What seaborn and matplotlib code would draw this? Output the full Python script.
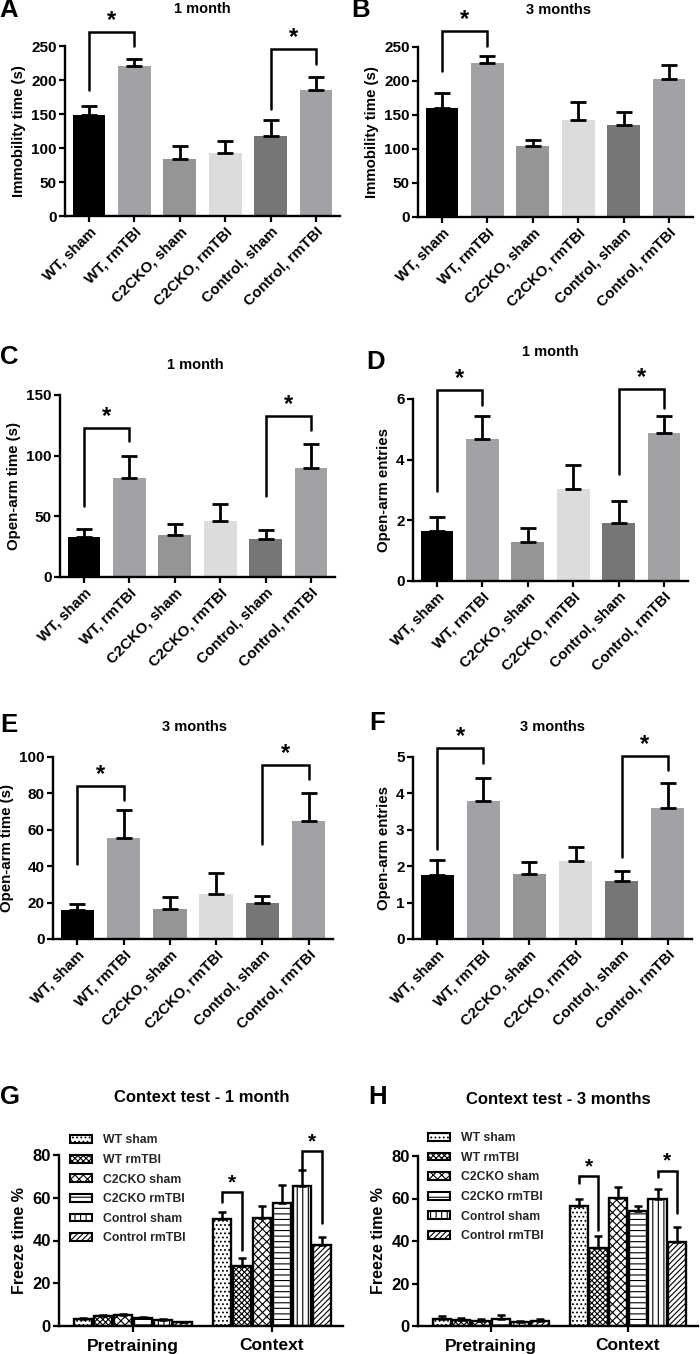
import numpy as np
import pandas as pd
import matplotlib
matplotlib.use("Agg")
import matplotlib.pyplot as plt
import matplotlib.patches as mpatches
import seaborn as sns

sns.set_theme(style="ticks")
plt.rcParams["font.family"] = ["Liberation Sans", "DejaVu Sans"]
plt.rcParams["font.weight"] = "bold"
plt.rcParams["axes.labelweight"] = "bold"
plt.rcParams["hatch.linewidth"] = 0.8

# ---------------- data ----------------
groups = ["WT, sham", "WT, rmTBI", "C2CKO, sham", "C2CKO, rmTBI", "Control, sham", "Control, rmTBI"]
bar_colors = ["#000000", "#a2a2a6", "#959595", "#dcdcdc", "#767676", "#a2a2a6"]

immob_1m = [148, 221, 84, 92, 118, 185]
immob_1m_sem = [14, 10, 19, 19, 23, 19]
immob_3m = [160, 227, 104, 143, 136, 203]
immob_3m_sem = [22, 10, 9, 26, 18, 20]
openarm_time_1m = [33, 82, 35, 46.5, 31.7, 89.7]
openarm_time_1m_sem = [6.4, 18, 8.3, 13.5, 6.8, 19.6]
openarm_entries_1m = [1.65, 4.67, 1.27, 3.02, 1.90, 4.87]
openarm_entries_1m_sem = [0.47, 0.78, 0.49, 0.82, 0.75, 0.57]
openarm_time_3m = [15.9, 55.3, 16.6, 25.0, 19.9, 65.1]
openarm_time_3m_sem = [3.4, 15.5, 6.4, 11.5, 4.0, 15.2]
openarm_entries_3m = [1.77, 3.78, 1.78, 2.14, 1.59, 3.59]
openarm_entries_3m_sem = [0.39, 0.64, 0.33, 0.39, 0.27, 0.70]

fear_groups = ["WT sham", "WT rmTBI", "C2CKO sham", "C2CKO rmTBI", "Control sham", "Control rmTBI"]
phases = ["Pretraining", "Context"]
fear_hatches = ["....", "xxxxxx", "xxxx", "---", "|||", "//////"]
freeze_pre_1m = [3.1, 4.7, 5.0, 3.9, 2.7, 1.7]
freeze_pre_1m_sem = [0.5, 0.6, 0.5, 0.4, 0.4, 0.3]
freeze_ctx_1m = [50.2, 28.1, 50.3, 57.5, 65.6, 37.8]
freeze_ctx_1m_sem = [3.2, 3.5, 6.0, 8.3, 7.5, 3.8]
freeze_pre_3m = [3.1, 3.0, 2.5, 3.3, 1.9, 2.5]
freeze_pre_3m_sem = [1.6, 0.6, 0.6, 1.9, 0.5, 1.0]
freeze_ctx_3m = [56.5, 36.9, 60.1, 54.1, 59.6, 39.5]
freeze_ctx_3m_sem = [3.3, 5.5, 5.2, 2.4, 5.0, 6.9]

# significance brackets: (left index, right index, left-leg bottom, top, right-leg bottom)
sig_A = [(0, 1, 185, 270, 250), (4, 5, 158, 245, 223)]
sig_B = [(0, 1, 214, 273, 252)]
sig_C = [(0, 1, 58.6, 123, 112), (4, 5, 67, 133, 121)]
sig_D = [(0, 1, 2.97, 6.29, 5.79), (4, 5, 3.53, 6.33, 5.69)]
sig_E = [(0, 1, 41, 84, 76.6), (4, 5, 52, 95.6, 87.8)]
sig_F = [(0, 1, 2.46, 5.25, 4.84), (4, 5, 2.26, 5.04, 4.64)]
sig_G = [(0, 1, 57.8, 62.5, 35.6), (4, 5, 72.3, 81.7, 48.1)]
sig_H = [(0, 1, 67.1, 70.6, 45.2), (4, 5, 70.0, 73.1, 53.0)]

W, H = 700, 1354
fig = plt.figure(figsize=(W / 100, H / 100), dpi=100)


def rect(left, top, right, bottom):
    return [left / W, 1 - bottom / H, (right - left) / W, (bottom - top) / H]


def style_axes(ax, ysize):
    sns.despine(ax=ax)
    for s in ["left", "bottom"]:
        ax.spines[s].set_linewidth(1.7)
        ax.spines[s].set_color("black")
    ax.tick_params(axis="both", direction="out", length=4, width=1.6, color="black",
                   labelcolor="black", pad=2)
    ax.tick_params(axis="y", labelsize=ysize)
    for lab in ax.get_yticklabels():
        lab.set_fontweight("bold")


def bracket(ax, x0, x1, yl, yt, yr, star_size=17):
    ax.plot([x0, x0, x1, x1], [yl, yt, yt, yr], color="black", lw=1.8,
            clip_on=False, solid_joinstyle="miter")
    ax.text((x0 + x1) / 2, yt, "*", ha="center", va="bottom", fontsize=star_size,
            fontweight="bold", color="black", clip_on=False)


def simple_panel(r, values, sems, ymax, yticks, ylabel, sigs):
    ax = fig.add_axes(r)
    df = pd.DataFrame({"group": groups, "value": values})
    sns.barplot(data=df, x="group", y="value", hue="group", palette=bar_colors,
                legend=False, errorbar=None, width=0.72, linewidth=0,
                saturation=1, ax=ax)
    x = np.arange(len(groups))
    ax.errorbar(x, values, yerr=[np.zeros(len(values)), sems], fmt="none",
                ecolor="black", elinewidth=2.0, capsize=5.5, capthick=2.0,
                clip_on=False)
    ax.set_xlim(-0.53, 5.53)
    ax.set_ylim(0, ymax)
    ax.set_yticks(yticks)
    ax.set_xticks(x)
    ax.set_xticklabels(groups, rotation=45, ha="right", rotation_mode="anchor",
                       fontweight="bold", fontsize=10.8)
    ax.set_xlabel("")
    ax.set_ylabel(ylabel, fontsize=10.8, fontweight="bold", color="black", labelpad=4)
    style_axes(ax, 11)
    for (i, j, yl, yt, yr) in sigs:
        bracket(ax, i, j, yl, yt, yr)
    return ax


def fear_panel(r, pre, pre_sem, ctx, ctx_sem, sigs, leg_anchor):
    ax = fig.add_axes(r)
    rows = []
    for g, p, c in zip(fear_groups, pre, ctx):
        rows.append({"phase": phases[0], "group": g, "value": p})
        rows.append({"phase": phases[1], "group": g, "value": c})
    df = pd.DataFrame(rows)
    sns.barplot(data=df, x="phase", y="value", hue="group", order=phases,
                hue_order=fear_groups, palette=["white"] * 6, errorbar=None,
                width=0.86, gap=0.08, saturation=1, edgecolor="black",
                linewidth=1.7, legend=False, ax=ax)
    bar_containers = list(ax.containers)
    centers = {}
    for j, cont in enumerate(bar_containers):
        for k, patch in enumerate(cont.patches):
            patch.set_hatch(fear_hatches[j])
            patch.set_edgecolor("black")
            centers[(k, j)] = patch.get_x() + patch.get_width() / 2
    for j in range(len(fear_groups)):
        xs = [centers[(0, j)], centers[(1, j)]]
        ax.errorbar(xs, [pre[j], ctx[j]], yerr=[[0, 0], [pre_sem[j], ctx_sem[j]]],
                    fmt="none", ecolor="black", elinewidth=1.8, capsize=3.2,
                    capthick=1.8, clip_on=False)
    ax.set_xlim(-0.53, 1.51)
    ax.set_ylim(0, 80)
    ax.set_yticks([0, 20, 40, 60, 80])
    ax.set_xticks([0, 1])
    ax.set_xticklabels(phases, fontsize=12.5, fontweight="bold")
    ax.set_xlabel("")
    ax.set_ylabel("Freeze time %", fontsize=11.5, fontweight="bold", color="black")
    style_axes(ax, 12)
    ax.tick_params(axis="x", pad=5)
    for (i, j, yl, yt, yr) in sigs:
        bracket(ax, centers[(1, i)], centers[(1, j)], yl, yt, yr, star_size=15)
    handles = [mpatches.Patch(facecolor="white", edgecolor="black", linewidth=1.5,
                              hatch=h, label=g) for g, h in zip(fear_groups, fear_hatches)]
    ax.legend(handles=handles, loc="upper left", bbox_to_anchor=leg_anchor,
              frameon=False, handlelength=1.8, handleheight=0.6,
              labelspacing=0.62, handletextpad=0.9, borderpad=0, borderaxespad=0,
              prop={"weight": "bold", "size": 8.8})
    return ax


def fig_text(x, y, s, size, weight="bold"):
    fig.text(x / W, 1 - y / H, s, ha="center", va="center", fontsize=size,
             fontweight=weight, color="black")


simple_panel(rect(65, 46, 340, 216), immob_1m, immob_1m_sem, 250,
             [0, 50, 100, 150, 200, 250], "Immobility time (s)", sig_A)
simple_panel(rect(418, 47, 693, 217), immob_3m, immob_3m_sem, 250,
             [0, 50, 100, 150, 200, 250], "Immobility time (s)", sig_B)
simple_panel(rect(60, 395, 335, 577), openarm_time_1m, openarm_time_1m_sem, 150,
             [0, 50, 100, 150], "Open-arm time (s)", sig_C)
simple_panel(rect(413, 399, 688, 581), openarm_entries_1m, openarm_entries_1m_sem, 6,
             [0, 2, 4, 6], "Open-arm entries", sig_D)
simple_panel(rect(53, 757, 333, 939), openarm_time_3m, openarm_time_3m_sem, 100,
             [0, 20, 40, 60, 80, 100], "Open-arm time (s)", sig_E)
simple_panel(rect(413, 757, 692, 939), openarm_entries_3m, openarm_entries_3m_sem, 5,
             [0, 1, 2, 3, 4, 5], "Open-arm entries", sig_F)
fear_panel(rect(59, 1155, 343, 1326), freeze_pre_1m, freeze_pre_1m_sem,
           freeze_ctx_1m, freeze_ctx_1m_sem, sig_G, (0.04, 1.12))
fear_panel(rect(418, 1156, 698, 1326), freeze_pre_3m, freeze_pre_3m_sem,
           freeze_ctx_3m, freeze_ctx_3m_sem, sig_H, (0.035, 1.14))

# panel letters and titles
for letter, x, y in [("A", 9, 10), ("B", 361, 10), ("C", 9, 357), ("D", 376, 362),
                     ("E", 9, 725), ("F", 377, 723), ("G", 10, 1097), ("H", 378, 1097)]:
    fig_text(x, y, letter, 18.5)
for title, x, y, size in [("1 month", 202, 9, 10.5), ("3 months", 558, 10, 10.5),
                          ("1 month", 195, 365, 10.5), ("1 month", 550, 352, 10.5),
                          ("3 months", 194, 727, 10.5), ("3 months", 553, 727, 10.5),
                          ("Context test - 1 month", 202, 1097, 12),
                          ("Context test - 3 months", 558, 1100, 12)]:
    fig_text(x, y, title, size)

fig.savefig("out.png", dpi=100)
